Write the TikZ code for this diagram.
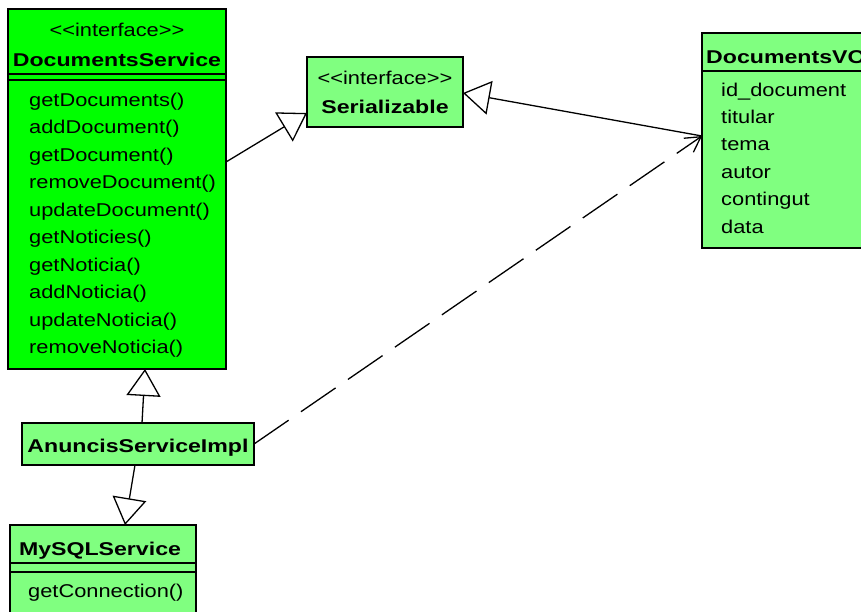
\documentclass[tikz,border=0pt]{standalone}
\usepackage{fontspec}
\setmainfont{Liberation Sans}[FakeStretch=1.18, Ligatures=TeXOff, BoldFeatures={FakeStretch=1.25}]
\usetikzlibrary{arrows.meta}
\definecolor{brightgreen}{HTML}{00FF00}
\definecolor{lightgreen}{HTML}{80FF80}
\begin{document}
\begin{tikzpicture}[x=1pt,y=-1pt,
  font=\fontsize{18.5}{22}\selectfont,
  classbox/.style={draw=black, line width=1.6pt, inner sep=0pt, outer sep=0pt, anchor=north west},
  sepline/.style={draw=black, line width=1.6pt},
  txt/.style={inner sep=0pt, anchor=base west},
  ctxt/.style={inner sep=0pt, anchor=base},
  bold/.style={font=\fontsize{18.5}{22}\selectfont\bfseries},
  gen/.style={draw=black, line width=1.3pt, -{Triangle[open, length=27pt, width=34pt]}},
  dep/.style={draw=black, line width=1.3pt, dash pattern=on 42pt off 15pt, -{Straight Barb[length=15pt, width=17pt]}}
]
\useasboundingbox (0,0) rectangle (861,611);
\fill[white] (0,0) rectangle (861,611);

% DocumentsService
\node[classbox, fill=brightgreen, minimum width=218pt, minimum height=360pt] (ds) at (8,9) {};
\draw[sepline] (ds.west |- 0,74) -- (ds.east |- 0,74);
\draw[sepline] (ds.west |- 0,80) -- (ds.east |- 0,80);
\node[ctxt] (dsst) at (117,36) {<<interface>>};
\node[ctxt, bold] (dsname) at (117,66) {DocumentsService};
\foreach \m [count=\i from 0] in {getDocuments(), addDocument(), getDocument(), removeDocument(), updateDocument(), getNoticies(), getNoticia(), addNoticia(), updateNoticia(), removeNoticia()}
  \node[txt] (dsm\i) at (29,106+27.5*\i) {\m};

% Serializable
\node[classbox, fill=lightgreen, minimum width=156pt, minimum height=70pt] (ser) at (307,57) {};
\node[ctxt] (serst) at (385,84) {<<interface>>};
\node[ctxt, bold] (sername) at (385,113) {Serializable};

% DocumentsVO
\node[classbox, fill=lightgreen, minimum width=180pt, minimum height=215pt] (vo) at (702,33) {};
\draw[sepline] (vo.west |- 0,71) -- (vo.east |- 0,71);
\node[txt, bold] (voname) at (706,63) {DocumentsVO};
\foreach \a [count=\i from 0] in {id\_document, titular, tema, autor, contingut, data}
  \node[txt] (voa\i) at (721,96+27.4*\i) {\a};

% AnuncisServiceImpl
\node[classbox, fill=lightgreen, minimum width=232pt, minimum height=42pt] (anu) at (22,423) {};
\node[ctxt, bold] (anuname) at (138,452) {AnuncisServiceImpl};

% MySQLService
\node[classbox, fill=lightgreen, minimum width=186pt, minimum height=100pt] (my) at (10,525) {};
\draw[sepline] (my.west |- 0,563) -- (my.east |- 0,563);
\draw[sepline] (my.west |- 0,572) -- (my.east |- 0,572);
\node[ctxt, bold] (myname) at (100,555) {MySQLService};
\node[txt] (mym0) at (28,597) {getConnection()};

% connectors
\draw[gen] (ds.east |- 0,162) -- (ser.west |- 0,113);
\draw[gen] (anu.north -| 142,0) -- (ds.south -| 145,0);
\draw[gen] (anu.south -| 135,0) -- (my.north -| 125,0);
\draw[gen] (vo.west |- 0,136) -- (ser.east |- 0,93);
\draw[dep] (anu.east) -- (vo.west |- 0,136);
\end{tikzpicture}
\end{document}
